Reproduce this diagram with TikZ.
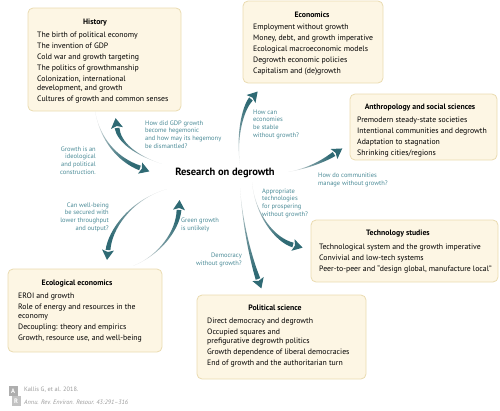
\documentclass[tikz,border=0pt]{standalone}
\usepackage{fontspec}
\setmainfont{PT Sans}
\usetikzlibrary{calc}
\definecolor{arrowcol}{HTML}{2F6A74}
\definecolor{midcol}{HTML}{6F959C}
\definecolor{tailcol}{HTML}{E4E6E6}
\definecolor{qcol}{HTML}{4A8A96}
\definecolor{boxfill}{HTML}{FDF6E4}
\definecolor{boxline}{HTML}{EADBB0}
\definecolor{footgray}{HTML}{9A9A9A}
\newcommand\taperarrow[2]{%
 \shade[top color=tailcol, bottom color=arrowcol, middle color=midcol, shading angle=#2]
   (#10) .. controls ($(#11)!0.3pt!-90:(#12)$) and ($(#12)!1.6pt!-90:(#13)$) .. ($(#13)!2.4pt!90:(#12)$)
   -- ($(#13)!2.4pt!-90:(#12)$) .. controls ($(#12)!1.6pt!90:(#13)$) and ($(#11)!0.3pt!90:(#12)$) .. (#10) -- cycle;
 \fill[arrowcol] ($(#13)!6pt!90:(#12)$) -- ($(#13)!-10pt!(#12)$) -- ($(#13)!6pt!-90:(#12)$) -- ($(#13)!-2pt!(#12)$) -- cycle;
}
\begin{document}
\begin{tikzpicture}[x=1pt,y=-1pt,
 panel/.style={draw=boxline, fill=boxfill, rounded corners=5pt, line width=0.8pt, inner sep=0pt, outer sep=0pt, anchor=north west},
 ttl/.style={font=\fontsize{7.8}{9}\selectfont\bfseries, anchor=base, inner sep=0pt},
 lst/.style={font=\fontsize{7.8}{9}\selectfont, align=left, anchor=base west, inner sep=0pt},
 ql/.style={font=\fontsize{6.5}{7.6}\selectfont, text=qcol, inner sep=0pt, align=left, anchor=base west},
 qr/.style={font=\fontsize{6.5}{7.6}\selectfont, text=qcol, inner sep=0pt, align=right, anchor=base east},
]
\useasboundingbox (0,0) rectangle (500,410);

% boxes
\node[panel, minimum width=153pt, minimum height=103pt] (histbox) at (28,8) {};
\node[panel, minimum width=140pt, minimum height=82pt] (econbox) at (243,1) {};
\node[panel, minimum width=147pt, minimum height=66pt] (anthbox) at (350,94) {};
\node[panel, minimum width=187pt, minimum height=62pt] (techbox) at (311,220) {};
\node[panel, minimum width=169pt, minimum height=84pt] (polbox) at (197,295) {};
\node[panel, minimum width=154pt, minimum height=83pt] (ecobox) at (8,269) {};

% titles
\node[ttl] (histT) at (95,24.5) {History};
\node[ttl] (econT) at (312,17.5) {Economics};
\node[ttl] (anthT) at (420,109.5) {Anthropology and social sciences};
\node[ttl] (techT) at (398,235.5) {Technology studies};
\node[ttl] (polT) at (275,310.5) {Political science};
\node[ttl] (ecoT) at (77,285.5) {Ecological economics};

% lists (anchored at the baseline of their last line)
\node[lst] (histL) at (37,101.5) {The birth of political economy\\[2pt]The invention of GDP\\[2pt]Cold war and growth targeting\\[2pt]The politics of growthmanship\\[2pt]Colonization, international\\development, and growth\\[2pt]Cultures of growth and common senses};
\node[lst] (econL) at (253,73.5) {Employment without growth\\[2pt]Money, debt, and growth imperative\\[2pt]Ecological macroeconomic models\\[2pt]Degrowth economic policies\\[2pt]Capitalism and (de)growth};
\node[lst] (anthL) at (357,155.5) {Premodern steady-state societies\\[2pt]Intentional communities and degrowth\\[2pt]Adaptation to stagnation\\[2pt]Shrinking cities/regions};
\node[lst] (techL) at (319,271.5) {Technological system and the growth imperative\\[2pt]Convivial and low-tech systems\\[2pt]Peer-to-peer and “design global, manufacture local”};
\node[lst] (polL) at (207,365.5) {Direct democracy and degrowth\\[2pt]Occupied squares and\\prefigurative degrowth politics\\[2pt]Growth dependence of liberal democracies\\[2pt]End of growth and the authoritarian turn};
\node[lst] (ecoL) at (18,340.5) {EROI and growth\\[2pt]Role of energy and resources in the\\economy\\[2pt]Decoupling: theory and empirics\\[2pt]Growth, resource use, and well-being};

% center
\node[font=\fontsize{10.5}{12}\selectfont\bfseries, anchor=base, inner sep=0pt] (center) at (225,175) {Research on degrowth};

% arrows
\coordinate (A0) at (162,164); \coordinate (A1) at (135,155); \coordinate (A2) at (119,142); \coordinate (A3) at (117,128);
\coordinate (B0) at (95,111); \coordinate (B1) at (100,140); \coordinate (B2) at (118,160); \coordinate (B3) at (140,168);
\coordinate (C0) at (240,165); \coordinate (C1) at (236,135); \coordinate (C2) at (243,108); \coordinate (C3) at (251,99);
\coordinate (D0) at (288,172); \coordinate (D1) at (310,168); \coordinate (D2) at (325,160); \coordinate (D3) at (334,154);
\coordinate (E0) at (252,182); \coordinate (E1) at (255,215); \coordinate (E2) at (275,240); \coordinate (E3) at (293,245);
\coordinate (F0) at (240,188); \coordinate (F1) at (243,230); \coordinate (F2) at (253,265); \coordinate (F3) at (258,279);
\coordinate (G0) at (133,266); \coordinate (G1) at (160,255); \coordinate (G2) at (178,230); \coordinate (G3) at (179,210);
\coordinate (H0) at (167,189); \coordinate (H1) at (130,200); \coordinate (H2) at (110,230); \coordinate (H3) at (108,250);
\taperarrow{A}{224}
\taperarrow{B}{42}
\taperarrow{C}{165}
\taperarrow{D}{114}
\taperarrow{E}{39}
\taperarrow{F}{12}
\taperarrow{G}{146}
\taperarrow{H}{-40}

% questions (anchored at the baseline of their last line)
\node[ql] (qA) at (145,148) {How did GDP growth\\become hegemonic\\and how may its hegemony\\be dismantled?};
\node[qr] (qB) at (96,174) {Growth is an\\ideological\\and political\\construction.};
\node[ql] (qC) at (253,137) {How can\\economies\\be stable\\without growth?};
\node[ql] (qD) at (318,185) {How do communities\\manage without growth?};
\node[ql] (qE) at (262,216) {Appropriate\\technologies\\for prospering\\without growth?};
\node[qr] (qF) at (242,265) {Democracy\\without growth?};
\node[ql] (qG) at (181,230) {Green growth\\is unlikely};
\node[qr] (qH) at (109,230) {Can well-being\\be secured with\\lower throughput\\and output?};

% footer
\node[fill=footgray!80, text=white, font=\fontsize{6.5}{6.5}\selectfont\bfseries, inner sep=0pt, minimum width=9pt, minimum height=10pt] (logoA) at (13,391) {A};
\node[fill=footgray!60, text=white, font=\fontsize{6.5}{6.5}\selectfont\bfseries, inner sep=0pt, minimum width=9pt, minimum height=10pt] (logoR) at (16,401) {R};
\node[anchor=base west, inner sep=0pt, font=\fontsize{6.3}{7}\selectfont, text=footgray] (cite1) at (24,391) {Kallis G, et al. 2018.};
\node[anchor=base west, inner sep=0pt, font=\fontsize{6.3}{7}\selectfont\itshape, text=footgray] (cite2) at (24,404) {Annu. Rev. Environ. Resour. 43:291–316};
\end{tikzpicture}
\end{document}
